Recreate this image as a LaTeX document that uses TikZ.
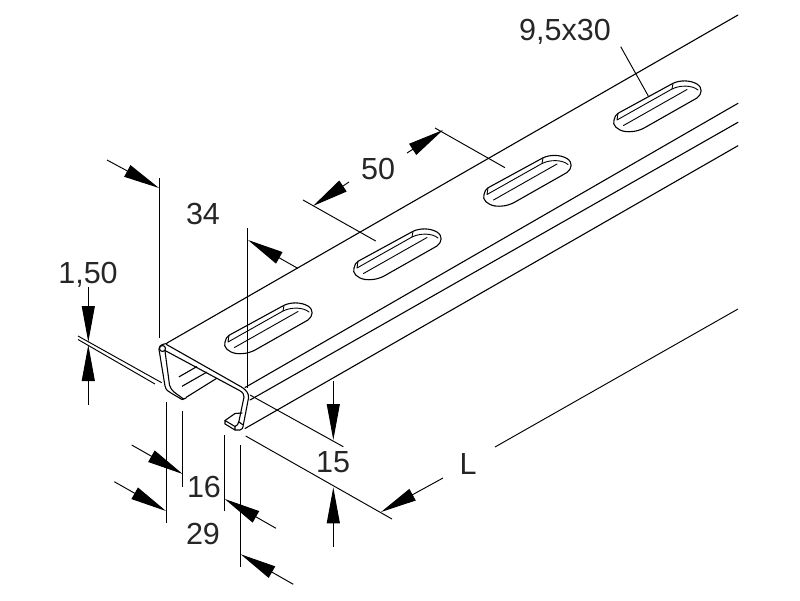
\documentclass[tikz,border=0pt]{standalone}
\usepackage{fontspec}
\setmainfont{Liberation Sans}
\usetikzlibrary{arrows.meta}
\tikzset{
  part/.style={line width=1.1pt,line join=round,line cap=round},
  dimline/.style={line width=0.95pt},
  dimarrow/.style={line width=0.95pt,-{Triangle[length=36pt,width=13pt]}},
  lbl/.style={font=\fontsize{30.5}{30.5}\selectfont,inner sep=0pt,text=black!85}
}
\newcommand{\SlotHole}{%
  \draw[part,fill=white] (614,120) .. controls (614.5,117) and (616,114.5) .. (618,113.3) -- (673,83.3)
    .. controls (680,80) and (690,80) .. (697,84) .. controls (703,88) and (702,94) .. (697,98)
    -- (645,127.5) .. controls (637,132) and (630,132) .. (625,131.5)
    .. controls (617,130) and (612,125) .. (614,120) -- cycle;
  \draw[part,line width=0.9pt] (618,113.3) -- (617,120) -- (672,89) -- (673,83.5);
  \draw[part,line width=0.9pt] (672,89) .. controls (680,85) and (692,85) .. (698,90);
  \draw[part,line width=0.9pt] (623.5,125.5) -- (687,89.5);
}
\begin{document}
\begin{tikzpicture}[x=1pt,y=-1pt]
\useasboundingbox (0,0) rectangle (800,600);
\fill[white] (0,0) rectangle (800,600);

% long body lines
\draw[part] (167,343) -- (738,15);
\draw[part] (245,387.5) -- (738,103.3);
\draw[part] (250,400) -- (738,122.3);
\draw[part] (245,428.5) -- (738,145.7);

% slots
\foreach \dx/\dy in {0/0,-130/74.5,-260/148,-389/222}{
  \begin{scope}[shift={(\dx,\dy)}]\SlotHole\end{scope}
}

% inner flange on the left
\draw[part] (170,382) -- (196.7,366.7);
\draw[part] (172,392) -- (206.7,372.2);
\draw[part] (183.5,399) -- (216.7,378.3);

% profile, left part
\draw[part,fill=white] (167,343.5) .. controls (163,344) and (159,345) .. (159,349.5)
  -- (165,386) .. controls (166,390) and (168,391.5) .. (171,393) -- (182,399.5) -- (186,398);
\draw[part] (165,351) -- (169.5,385) .. controls (170,388) and (172,390) .. (174,392) -- (183.5,399);
\draw[part,fill=white] (162.5,348.5) circle (3);

% profile, top web and right part
\draw[part] (166.5,344.5) -- (241.5,387) .. controls (246,390) and (249,393) .. (248.5,398)
  -- (243.5,424) .. controls (243,428) and (242,430) .. (240,430) -- (235,430);
\draw[part] (165,350.5) -- (239.5,390.5) .. controls (243,392.5) and (244,394) .. (244,397)
  -- (239,421) .. controls (238.5,424) and (237,426) .. (235,426.5);
% right lip
\draw[part] (225,420.5) -- (235,413.5) -- (242,413);
\draw[part] (225,420.5) -- (235,426.5) -- (235,430) -- (225,424) -- cycle;
\draw[part] (239,422) -- (242.5,424.5);

% extension lines
\draw[dimline] (159.3,178) -- (159.3,338);
\draw[dimline] (247.7,228) -- (247.7,388);
\draw[dimline] (303,200) -- (375.7,241);
\draw[dimline] (435,128) -- (505,167.7);
\draw[dimline] (620.7,46.7) -- (648.3,96);
\draw[dimline] (78,336) -- (161.7,382.7);
\draw[dimline] (78,339.5) -- (155,384);
\draw[dimline] (166,402) -- (166,523);
\draw[dimline] (182.7,411) -- (182.7,487);
\draw[dimline] (224.7,435) -- (224.7,511);
\draw[dimline] (240.7,445) -- (240.7,567);
\draw[dimline] (250,395) -- (343.3,446.7);
\draw[dimline] (245.7,436) -- (392,519);
\draw[dimline] (495,447) -- (738,309);

% dimension arrows
\draw[dimarrow] (107,160) -- (159,188);
\draw[dimarrow] (298,268.5) -- (248,240);
\draw[dimarrow] (349,182) -- (313,206);
\draw[dimarrow] (407,153) -- (443,130);
\draw[dimarrow] (88.3,287) -- (88.3,342);
\draw[dimarrow] (88.3,405) -- (88.3,345);
\draw[dimarrow] (131.7,445) -- (182.7,474);
\draw[dimarrow] (114.3,481.7) -- (166,511);
\draw[dimarrow] (276,528.3) -- (224.7,499);
\draw[dimarrow] (293.3,584.3) -- (240.7,554.3);
\draw[dimarrow] (333.3,381) -- (333.3,440);
\draw[dimarrow] (333.3,546.7) -- (333.3,487.3);
\draw[dimarrow] (443,478) -- (381,512);

% labels
\node[lbl] (t150) at (88,274.5) {1,50};
\node[lbl] (t34) at (203,214) {34};
\node[lbl] (t50) at (378,169) {50};
\node[lbl] (t95) at (565,31.5) {9,5x30};
\node[lbl] (t15) at (333,462.5) {15};
\node[lbl] (t16) at (204,487) {16};
\node[lbl] (t29) at (203,534) {29};
\node[lbl] (tL) at (468,464) {L};
\end{tikzpicture}
\end{document}
